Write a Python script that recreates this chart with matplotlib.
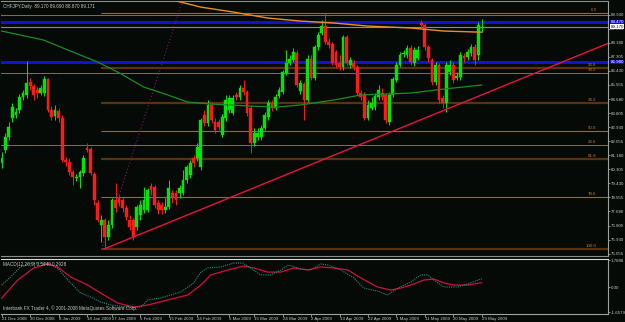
import matplotlib
matplotlib.use("Agg")
import matplotlib.pyplot as plt
from matplotlib.transforms import blended_transform_factory

plt.rcParams["font.family"] = ["Liberation Sans", "DejaVu Sans"]

# CHFJPY daily bars, 21 Dec 2008 .. 29 May 2009
opens = [80.69, 81.50, 82.31, 83.50, 83.68, 83.99, 84.80, 84.93, 85.74, 85.49,
         85.24, 85.05, 85.05, 85.92, 83.99, 83.62, 83.93, 83.50, 80.88, 80.76,
         80.13, 79.76, 79.82, 80.07, 81.63, 81.57, 80.01, 78.21, 76.84, 77.15,
         76.09, 76.84, 78.39, 78.52, 78.39, 77.90, 77.15, 77.15, 76.71, 77.46,
         77.77, 77.77, 79.26, 79.20, 78.21, 78.08, 77.77, 77.96, 78.83, 78.83,
         78.83, 78.83, 79.64, 79.95, 81.01, 81.01, 80.45, 83.68, 83.18, 84.31,
         83.25, 83.25, 82.44, 83.50, 83.99, 83.81, 84.93, 84.80, 85.36, 85.11,
         84.12, 81.94, 82.31, 82.31, 82.87, 83.56, 84.43, 84.12, 84.87, 85.11,
         86.30, 86.92, 87.11, 87.54, 85.18, 85.61, 84.62, 87.17, 85.99, 87.91,
         88.79, 89.22, 88.23, 88.10, 87.60, 86.92, 86.67, 88.54, 86.80, 86.92,
         86.67, 85.05, 84.93, 83.50, 84.12, 84.18, 84.80, 85.05, 84.93, 83.25,
         84.93, 85.86, 86.80, 87.48, 87.42, 87.85, 86.92, 87.23, 89.41, 89.28,
         87.91, 87.11, 85.74, 86.80, 84.74, 84.43, 86.36, 86.80, 85.99, 86.05,
         87.35, 87.29, 87.54, 87.91, 87.42, 89.17]
highs = [81.38, 82.56, 83.25, 84.43, 84.12, 84.99, 85.24, 87.04, 85.99, 85.61,
         85.43, 85.55, 86.11, 85.99, 84.24, 84.31, 84.12, 83.68, 81.07, 81.01,
         80.26, 80.01, 80.26, 81.19, 81.94, 81.69, 80.13, 78.39, 77.46, 77.27,
         77.15, 78.52, 79.45, 78.70, 78.58, 78.08, 77.46, 77.27, 78.08, 78.39,
         79.20, 79.14, 79.45, 79.33, 78.39, 78.27, 78.52, 79.64, 79.01, 79.01,
         79.33, 80.26, 80.57, 80.88, 81.19, 81.94, 83.50, 83.99, 84.62, 84.49,
         83.50, 83.43, 83.74, 84.93, 84.93, 84.93, 85.11, 85.55, 85.86, 85.24,
         84.31, 82.87, 82.87, 83.06, 83.87, 84.62, 84.62, 84.99, 85.43, 86.48,
         87.73, 87.42, 87.85, 87.73, 85.86, 85.74, 87.42, 87.42, 88.04, 88.85,
         89.60, 90.03, 88.47, 88.23, 87.73, 87.42, 88.66, 88.66, 87.29, 87.11,
         86.80, 85.24, 85.11, 84.62, 84.80, 85.05, 85.55, 85.36, 85.05, 85.11,
         86.05, 86.98, 87.60, 87.73, 88.04, 88.04, 87.91, 87.98, 89.60, 89.41,
         88.04, 87.23, 86.98, 86.92, 84.93, 86.98, 87.11, 86.98, 86.36, 87.60,
         87.54, 87.79, 88.10, 88.10, 89.47, 89.69]
lows = [80.38, 81.32, 82.13, 83.25, 83.50, 83.81, 84.62, 84.74, 85.24, 84.62,
        84.74, 84.93, 84.87, 83.87, 83.37, 83.37, 83.25, 80.76, 80.51, 79.95,
        79.33, 79.58, 79.14, 79.89, 81.38, 79.95, 78.08, 77.02, 75.78, 75.34,
        75.90, 76.65, 77.65, 78.02, 77.65, 77.15, 76.52, 75.90, 76.52, 77.15,
        77.58, 77.65, 78.70, 77.90, 77.52, 77.52, 77.58, 77.83, 78.21, 78.08,
        78.52, 78.70, 79.45, 79.76, 80.45, 80.82, 80.26, 83.00, 83.00, 83.18,
        82.56, 82.75, 82.31, 83.31, 83.81, 83.68, 84.62, 84.62, 84.93, 83.62,
        81.32, 81.75, 82.13, 82.13, 82.75, 83.37, 83.93, 83.99, 84.74, 84.99,
        86.17, 86.80, 86.98, 85.43, 84.99, 83.37, 84.49, 85.86, 85.86, 87.73,
        88.66, 88.10, 87.85, 86.80, 86.61, 86.48, 86.48, 86.73, 86.61, 86.48,
        84.93, 84.62, 83.37, 83.37, 83.99, 83.99, 84.62, 84.62, 83.18, 83.06,
        84.80, 85.74, 86.67, 87.29, 87.23, 86.80, 86.73, 87.11, 89.10, 87.73,
        86.98, 85.55, 85.55, 84.43, 84.12, 83.87, 86.17, 85.67, 85.86, 85.86,
        86.98, 87.11, 87.35, 86.80, 87.11, 88.87]
closes = [81.01, 82.31, 82.94, 84.18, 83.87, 84.80, 85.05, 85.67, 85.49, 84.93,
          85.05, 85.36, 85.92, 83.99, 83.56, 83.99, 83.50, 80.88, 80.76, 80.13,
          79.82, 79.82, 80.13, 81.01, 81.50, 80.07, 78.39, 77.15, 77.15, 76.09,
          76.84, 78.39, 77.90, 78.21, 77.90, 77.33, 76.71, 76.09, 77.96, 78.08,
          78.39, 79.01, 79.01, 78.08, 77.77, 77.77, 77.96, 79.14, 78.58, 78.39,
          79.14, 79.64, 80.45, 80.69, 80.69, 81.69, 83.37, 83.18, 84.31, 83.37,
          82.75, 82.94, 83.56, 84.62, 84.74, 84.74, 84.80, 85.36, 85.11, 83.81,
          81.94, 82.56, 82.56, 82.87, 83.68, 84.43, 84.12, 84.80, 85.24, 86.36,
          86.92, 87.17, 87.60, 85.55, 85.67, 84.62, 87.17, 85.99, 87.91, 88.66,
          89.22, 88.23, 88.04, 86.92, 86.80, 86.67, 88.54, 86.92, 87.11, 86.67,
          85.05, 84.80, 83.50, 84.31, 84.43, 84.87, 85.24, 84.80, 83.37, 84.93,
          85.92, 86.80, 87.42, 87.54, 87.85, 86.98, 87.73, 87.73, 89.28, 87.91,
          87.23, 85.74, 86.80, 84.62, 84.43, 86.80, 86.80, 85.86, 86.11, 87.42,
          87.23, 87.60, 87.91, 87.11, 89.28, 89.17]

date_idx = [0, 8, 16, 24, 31, 39, 47, 55, 64, 71, 79, 87, 95, 103, 111, 119, 127, 135]
date_labels = ["21 Dec 2008", "30 Dec 2008", "8 Jan 2009", "18 Jan 2009", "27 Jan 2009",
               "5 Feb 2009", "15 Feb 2009", "24 Feb 2009", "5 Mar 2009", "15 Mar 2009",
               "24 Mar 2009", "2 Apr 2009", "13 Apr 2009", "22 Apr 2009", "1 May 2009",
               "11 May 2009", "20 May 2009", "29 May 2009"]

price_ticks = [75.055, 75.930, 76.805, 77.680, 78.555, 79.430, 80.305, 81.180, 82.055,
               82.930, 83.805, 84.680, 85.555, 86.430, 87.305, 88.180, 89.055, 89.930]

# moving averages, sampled along the drawn lines
ma_green_x = [0, 11.8, 18.6, 27, 32.6, 39.9, 46.7, 52.3, 58.8, 70, 77.6, 84, 93.4, 101, 115, 124.3, 135]
ma_green_y = [88.91, 88.35, 87.73, 86.98, 86.36, 85.43, 84.93, 84.49, 84.37, 84.24, 84.18,
              84.31, 84.62, 84.93, 85.05, 85.30, 85.55]
ma_orange_x = [48, 56, 65.2, 74.8, 84.1, 93.4, 102.9, 115, 124.3, 135]
ma_orange_y = [90.84, 90.40, 90.09, 89.72, 89.53, 89.41, 89.22, 89.10, 88.91, 88.84]

# drawn objects
trend_x = [28.7, 170.7]
trend_y = [75.34, 88.16]
steep_x = [28.1, 50.9]
steep_y = [75.34, 90.84]
blue_levels = [89.47, 86.98]
blue_texts = ["89.470", "86.980"]
bid = 89.17
fib_start = 28
fib_levels = [90.03, 86.61, 84.43, 82.69, 80.94, 78.58, 75.34]
fib_texts = ["0.0", "23.6", "38.2", "50.0", "61.8", "78.6", "100.0"]
fib_dark = [False, True, True, False, True, False, True]
extra_levels = [89.90, 86.30, 81.82]
extra_texts = ["", "38.2", "23.6"]

# MACD pane lines
macd_x = [0, 2.5, 5.3, 8.2, 12.9, 15.7, 18.6, 22.2, 25, 27.8, 30.7, 35.4, 39.1, 41.1, 44.7,
          50.3, 54, 56, 57.9, 61.6, 65.2, 67.8, 70, 72.8, 75.6, 78.5, 80.7, 84.1, 86.9, 89.7,
          91.7, 95.3, 99, 101.8, 105.7, 108.5, 111.4, 115, 117.8, 119.8, 121.5, 124.3, 128.2,
          131, 133.9, 135]
macd_y = [0.13, 0.66, 1.33, 1.59, 1.59, 1.26, 0.46, -0.40, -0.66, -1.00, -1.19, -1.33, -1.33,
          -0.86, -0.73, -0.33, 0.27, 0.99, 1.26, 1.33, 1.59, 1.59, 1.26, 0.80, 0.80, 1.13, 1.46,
          1.19, 1.13, 1.52, 1.46, 1.13, 0.60, -0.07, -0.27, -0.53, -0.07, 0.33, 0.80, 0.80, 0.46,
          0.00, 0.00, 0.20, 0.46, 0.544]
signal_x = [0, 4.5, 9, 12.9, 15.7, 19.4, 24.2, 27.8, 32.6, 37.1, 41.1, 46.7, 52.3, 56, 58.8,
            63.6, 68.1, 70.9, 74.8, 78.5, 82.1, 86.1, 89.7, 93.4, 97.3, 101, 105.7, 109.4,
            112.2, 115, 118.7, 121.5, 124.3, 127.1, 131, 135]
signal_y = [-0.73, 0.46, 1.26, 1.52, 1.33, 0.66, 0.13, -0.40, -1.06, -1.33, -1.19, -0.86, -0.53,
            0.13, 0.80, 1.13, 1.39, 1.26, 0.99, 0.99, 1.26, 1.13, 1.33, 1.26, 1.13, 0.60, 0.00,
            -0.20, -0.07, 0.13, 0.46, 0.53, 0.27, 0.13, 0.13, 0.29]
macd_ticks = [1.7888, 0.0, -1.66]
macd_tick_labels = ["1.7888", "0.00", "-1.6579"]

BG = "#050a06"
FG = "#c8c8c8"
FS = 3.2
W, H = 625, 322

fig = plt.figure(figsize=(6.25, 3.22), dpi=100, facecolor=BG)
ax = fig.add_axes([1 / W, 1 - 256 / H, 607 / W, 255 / H], facecolor=BG)
ax2 = fig.add_axes([1 / W, 1 - 313.5 / H, 607 / W, 55 / H], facecolor=BG)

xlim = (-0.2, 170.5)

# candles
xs = list(range(len(closes)))
for i in xs:
    o, h, l, c = opens[i], highs[i], lows[i], closes[i]
    col = "#00e600" if c >= o else "#ff1a1a"
    ax.vlines(i, l, h, color=col, lw=0.7, zorder=3)
    ax.bar(i, max(abs(c - o), 0.02), bottom=min(o, c), width=0.78, color=col,
           edgecolor=col, lw=0.3, zorder=4)

# horizontal objects
for lv in extra_levels:
    ax.axhline(lv, color="#b0621c", lw=0.7, zorder=1)
for lv, dark in zip(fib_levels, fib_dark):
    ax.hlines(lv, fib_start, xlim[1], color="#5a3210" if dark else "#b0621c",
              lw=1.6 if dark else 0.8, zorder=1)
for lv, t in zip(fib_levels + extra_levels, fib_texts + extra_texts):
    ax.text(167.3, lv + 0.05, t, color="#c87a2a", fontsize=3.2, ha="right", va="bottom")
for lv in blue_levels:
    ax.axhline(lv, color="#1212c8", lw=2.2, zorder=2)
ax.axhline(bid, color="#8a8a8a", lw=0.8, zorder=2)

ax.plot(ma_green_x, ma_green_y, color="#1e8c1e", lw=0.9, zorder=5)
ax.plot(ma_orange_x, ma_orange_y, color="#e8901e", lw=1.0, zorder=5)
ax.plot(trend_x, trend_y, color="#e8143c", lw=1.0, zorder=6)
ax.plot(steep_x, steep_y, color="#8a1070", lw=0.8, ls=(0, (1, 2)), zorder=2)

ax.set_xlim(*xlim)
ax.set_ylim(74.91, 90.78)
ax.yaxis.tick_right()
ax.set_yticks(price_ticks)
ax.set_yticklabels(["%.3f" % v for v in price_ticks])
ax.tick_params(axis="y", colors="#a0a0a0", labelcolor=FG, labelsize=FS, length=1.5,
               width=0.6, pad=0.6)
ax.set_xticks([])
ax.spines["left"].set_visible(False)
ax.spines["top"].set_color("#8c8c8c")
ax.spines["right"].set_color("#a0a0a0")
ax.spines["bottom"].set_color("#8c8c8c")
for s in ax.spines.values():
    s.set_linewidth(0.8)

tr = blended_transform_factory(ax.transAxes, ax.transData)
for lv, t in zip(blue_levels, blue_texts):
    ax.text(1.004, lv, t, transform=tr, color="white", fontsize=FS, va="center",
            bbox=dict(facecolor="#1212c8", edgecolor="none", pad=0.3))
ax.text(1.004, bid, "%.3f" % bid, transform=tr, color="black", fontsize=FS, va="center",
        bbox=dict(facecolor="white", edgecolor="none", pad=0.3))

ax.text(0.004, 0.99, "CHFJPY,Daily  89.170 89.690 88.870 89.171", transform=ax.transAxes,
        color=FG, fontsize=3.3, va="top", ha="left")

# MACD pane
ax2.plot(signal_x, signal_y, color="#d0103a", lw=0.9)
ax2.plot(macd_x, macd_y, color="#2a8a80", lw=0.8, ls=(0, (1, 1)))
ax2.set_xlim(*xlim)
ax2.set_ylim(-1.757, 1.89)
ax2.yaxis.tick_right()
ax2.set_yticks(macd_ticks)
ax2.set_yticklabels(macd_tick_labels)
ax2.tick_params(axis="y", colors="#a0a0a0", labelcolor=FG, labelsize=FS, length=1.5,
                width=0.6, pad=0.6)
ax2.set_xticks(date_idx)
ax2.set_xticklabels(date_labels)
ax2.tick_params(axis="x", colors="#a0a0a0", labelcolor=FG, labelsize=FS, length=2,
                width=0.6, pad=0.3)
for lab in ax2.get_xticklabels():
    lab.set_ha("left")
ax2.spines["left"].set_visible(False)
ax2.spines["top"].set_color("#d8d8d8")
ax2.spines["right"].set_color("#a0a0a0")
ax2.spines["bottom"].set_color("#a0a0a0")
for s in ax2.spines.values():
    s.set_linewidth(0.8)
ax2.text(0.004, 0.93, "MACD(12,26,9) 0.5440 0.2928", transform=ax2.transAxes,
         color=FG, fontsize=3.3, va="top", ha="left")
ax2.text(0.004, 0.04, "Interbank FX Trader 4, \u00a9 2001-2008 MetaQuotes Software Corp.",
         transform=ax2.transAxes, color=FG, fontsize=3.3, va="bottom", ha="left")

fig.savefig("out.png", dpi=100, facecolor=BG)
